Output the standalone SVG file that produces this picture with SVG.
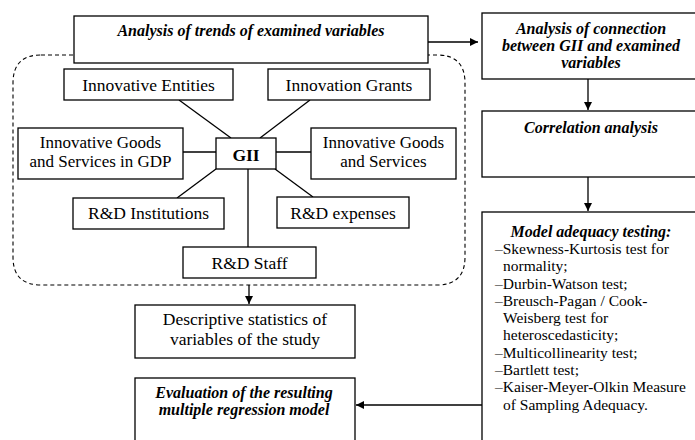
<svg xmlns="http://www.w3.org/2000/svg" width="695" height="440" viewBox="0 0 695 440">
<style>
.box{fill:#fff;stroke:#000;stroke-width:1.3}
.ln{fill:none;stroke:#000;stroke-width:1.3}
text{font-family:'Liberation Serif',Tinos,'Times New Roman','DejaVu Serif',serif;fill:#000}
.t{font-size:17.5px;text-anchor:middle}
.t2{font-size:17px;text-anchor:middle}
.h{font-size:16px;font-weight:bold;font-style:italic;text-anchor:middle}
.l{font-size:15.5px}
</style>
<defs>
<marker id="ah" viewBox="0 0 10 10" refX="10" refY="5" markerWidth="8" markerHeight="8" markerUnits="userSpaceOnUse" orient="auto">
<path d="M0,0 L10,5 L0,10 z" fill="#000"/>
</marker>
</defs>
<rect width="695" height="440" fill="#fff"/>
<g id="region">
<path d="M41,55 H437 Q465,55 465,83 V257 Q465,285 437,285 H41 Q13,285 13,257 V83 Q13,55 41,55 Z" fill="none" stroke="#000" stroke-width="1.1" stroke-dasharray="4,3"/>
</g>
<g id="connectors">
<line class="ln" x1="428" y1="42" x2="478" y2="42" marker-end="url(#ah)"/>
<line class="ln" x1="588" y1="79" x2="588" y2="110" marker-end="url(#ah)"/>
<line class="ln" x1="588" y1="177" x2="588" y2="211" marker-end="url(#ah)"/>
<line class="ln" x1="249" y1="285" x2="249" y2="304" marker-end="url(#ah)"/>
<line class="ln" x1="482" y1="405" x2="356" y2="405" marker-end="url(#ah)"/>
<line class="ln" x1="179" y1="100" x2="231" y2="138"/>
<line class="ln" x1="310" y1="100" x2="260" y2="138"/>
<line class="ln" x1="183" y1="152" x2="216" y2="152"/>
<line class="ln" x1="276" y1="152" x2="311" y2="152"/>
<line class="ln" x1="216" y1="169" x2="177" y2="198"/>
<line class="ln" x1="275" y1="169" x2="313" y2="197"/>
<line class="ln" x1="248" y1="169" x2="248" y2="247"/>
</g>
<g id="trends">
<rect class="box" x="74" y="16" width="354" height="47"/>
<text class="h" x="251" y="36">Analysis of trends of examined variables</text>
</g>
<g id="entities">
<rect class="box" x="64" y="69" width="169" height="31"/>
<text class="t" x="148.5" y="91">Innovative Entities</text>
</g>
<g id="grants">
<rect class="box" x="268" y="69" width="162" height="31"/>
<text class="t" x="349" y="91">Innovation Grants</text>
</g>
<g id="goods-gdp">
<rect class="box" x="18" y="128" width="165" height="51"/>
<text class="t2" x="100.5" y="148">Innovative Goods</text>
<text class="t2" x="100.5" y="167">and Services in GDP</text>
</g>
<g id="gii">
<rect class="box" x="216" y="138" width="60" height="31"/>
<text class="t" x="246" y="161" style="font-weight:bold">GII</text>
</g>
<g id="goods">
<rect class="box" x="311" y="128" width="145" height="51"/>
<text class="t2" x="383.5" y="148">Innovative Goods</text>
<text class="t2" x="383.5" y="167">and Services</text>
</g>
<g id="institutions">
<rect class="box" x="73" y="198" width="151" height="31"/>
<text class="t" x="148.5" y="219">R&amp;D Institutions</text>
</g>
<g id="expenses">
<rect class="box" x="277" y="197" width="132" height="31"/>
<text class="t" x="343" y="219">R&amp;D expenses</text>
</g>
<g id="staff">
<rect class="box" x="183" y="247" width="133" height="31"/>
<text class="t" x="249.5" y="269">R&amp;D Staff</text>
</g>
<g id="descriptive">
<rect class="box" x="135" y="305" width="220" height="53"/>
<text class="t" x="245" y="325">Descriptive statistics of</text>
<text class="t" x="245" y="345">variables of the study</text>
</g>
<g id="evaluation">
<rect class="box" x="135" y="378" width="220" height="80"/>
<text class="h" x="244" y="398">Evaluation of the resulting</text>
<text class="h" x="244" y="415">multiple regression model</text>
</g>
<g id="connection">
<rect class="box" x="482" y="13" width="230" height="66"/>
<text class="h" x="591" y="34">Analysis of connection</text>
<text class="h" x="591" y="51">between GII and examined</text>
<text class="h" x="591" y="68">variables</text>
</g>
<g id="correlation">
<rect class="box" x="482" y="111" width="230" height="66"/>
<text class="h" x="591" y="133">Correlation analysis</text>
</g>
<g id="adequacy">
<rect class="box" x="482" y="212" width="230" height="250"/>
<text class="h" x="591" y="237">Model adequacy testing:</text>
<text class="l" x="495" y="254">–Skewness-Kurtosis test for</text>
<text class="l" x="503" y="271">normality;</text>
<text class="l" x="495" y="289">–Durbin-Watson test;</text>
<text class="l" x="495" y="306">–Breusch-Pagan / Cook-</text>
<text class="l" x="503" y="323">Weisberg test for</text>
<text class="l" x="503" y="340">heteroscedasticity;</text>
<text class="l" x="495" y="358">–Multicollinearity test;</text>
<text class="l" x="495" y="375">–Bartlett test;</text>
<text class="l" x="495" y="392">–Kaiser-Meyer-Olkin Measure</text>
<text class="l" x="503" y="410">of Sampling Adequacy.</text>
</g>
</svg>
